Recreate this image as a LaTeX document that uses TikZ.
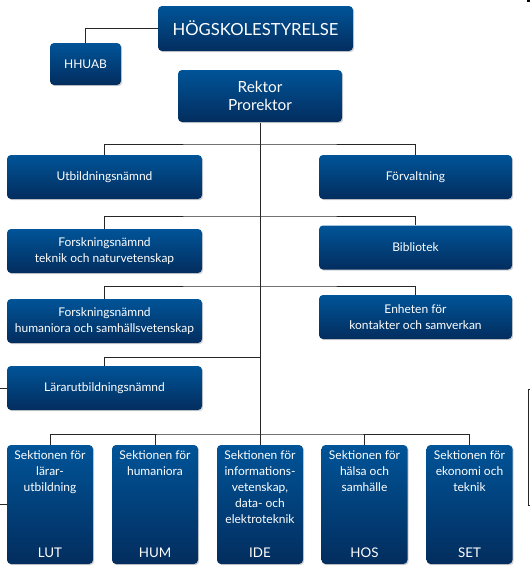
\documentclass[tikz,border=0pt]{standalone}
\usepackage{fontspec}
\setmainfont{Lato}
\usetikzlibrary{shadows}
\definecolor{boxtop}{RGB}{0,84,152}
\definecolor{boxbot}{RGB}{3,45,94}
\tikzset{every picture/.style={line width=0.75pt}}
\tikzset{
  orgbox/.style={rounded corners=3pt, top color=boxtop, bottom color=boxbot, text=white, align=center, inner sep=0pt,
    font=\fontsize{9}{12}\selectfont, drop shadow={shadow xshift=0.9pt, shadow yshift=-0.9pt, opacity=0.35}},
  colbox/.style={orgbox, minimum width=146.25pt, minimum height=33pt},
  secbox/.style={orgbox, minimum width=64.5pt, minimum height=89.25pt},
  sectext/.style={text=white, align=center, inner sep=0pt, font=\fontsize{9}{12}\selectfont},
  link/.style={draw=black!85, line width=0.75pt},
}

\begin{document}
\begin{tikzpicture}[x=0.75pt,y=0.75pt,yscale=-1,xscale=1]
\useasboundingbox (0,0) rectangle (530,572);

%Top boxes
\node[orgbox, minimum width=146.25pt, minimum height=33.75pt, font=\fontsize{12.5}{15}\selectfont] (hog) at (255.5,28.5) {HÖGSKOLESTYRELSE};
\node[orgbox, minimum width=53.25pt, minimum height=31.5pt] (hhuab) at (85.5,64) {HHUAB};
\node[orgbox, minimum width=123pt, minimum height=39pt, font=\fontsize{11.5}{14}\selectfont] (rektor) at (260,96) {Rektor\\Prorektor};

%Left column
\node[colbox] (utb) at (104.5,177) {Utbildningsnämnd};
\node[colbox] (ftn) at (104.5,251) {Forskningsnämnd\\teknik och naturvetenskap};
\node[colbox] (fhs) at (104.5,321) {Forskningsnämnd\\humaniora och samhällsvetenskap};
\node[colbox] (lun) at (104.5,388) {Lärarutbildningsnämnd};

%Right column
\node[colbox, minimum width=144.75pt] (forv) at (415.5,177) {Förvaltning};
\node[colbox, minimum width=144.75pt] (bib) at (415.5,247.5) {Bibliotek};
\node[colbox, minimum width=144.75pt] (enh) at (415.5,317) {Enheten för\\kontakter och samverkan};

%Sections
\node[secbox] (lut) at (50,504.5) {};
\node[secbox] (hum) at (155,504.5) {};
\node[secbox] (ide) at (260,504.5) {};
\node[secbox] (hos) at (364.5,504.5) {};
\node[secbox] (set) at (469.5,504.5) {};

% Text Node
\node[sectext, anchor=north] (lutT) at ([yshift=4.5pt]lut.north) {Sektionen för\\lärar-\\utbildning};
\node[sectext, anchor=north] (humT) at ([yshift=4.5pt]hum.north) {Sektionen för\\humaniora};
\node[sectext, anchor=north] (ideT) at ([yshift=4.5pt]ide.north) {Sektionen för\\informations-\\vetenskap,\\data- och\\elektroteknik};
\node[sectext, anchor=north] (hosT) at ([yshift=4.5pt]hos.north) {Sektionen för\\hälsa och\\samhälle};
\node[sectext, anchor=north] (setT) at ([yshift=4.5pt]set.north) {Sektionen för\\ekonomi och\\teknik};
\node[sectext, anchor=base, font=\fontsize{10}{12}\selectfont] (lutL) at ([yshift=-5.25pt]lut.south) {LUT};
\node[sectext, anchor=base, font=\fontsize{10}{12}\selectfont] (humL) at ([yshift=-5.25pt]hum.south) {HUM};
\node[sectext, anchor=base, font=\fontsize{10}{12}\selectfont] (ideL) at ([yshift=-5.25pt]ide.south) {IDE};
\node[sectext, anchor=base, font=\fontsize{10}{12}\selectfont] (hosL) at ([yshift=-5.25pt]hos.south) {HOS};
\node[sectext, anchor=base, font=\fontsize{10}{12}\selectfont] (setL) at ([yshift=-5.25pt]set.south) {SET};

%Straight Lines
\coordinate (b1) at (260,144);
\coordinate (b2) at (260,216);
\coordinate (b3) at (260,286);
\coordinate (b4) at (260,357);
\coordinate (b5) at (260,434);
\draw[link] (hog.west) -| (hhuab.north);
\draw[link] (rektor.south) -- (b5);
\draw[link] (utb.north) |- (b1) -| (forv.north);
\draw[link] (ftn.north) |- (b2) -| (bib.north);
\draw[link] (fhs.north) |- (b3) -| (enh.north);
\draw[link] (lun.north) |- (b4);
\draw[link] (lut.north) |- (b5) -| (set.north);
\draw[link] (hum.north) -- (hum.north |- b5);
\draw[link] (ide.north) -- (b5);
\draw[link] (hos.north) -- (hos.north |- b5);

%Lines leaving the page
\coordinate (eL1) at (0,388);
\coordinate (eL2) at (0,504.5);
\draw[link] (eL1) -- (lun.west);
\draw[link] (eL2) -- (lut.west);
\draw[link] (530,389) -- (528,389) -- (528,505) -- (530,505);
\draw[line width=1.5pt] (527,0.5) -- (530,0.5);

\end{tikzpicture}
\end{document}
